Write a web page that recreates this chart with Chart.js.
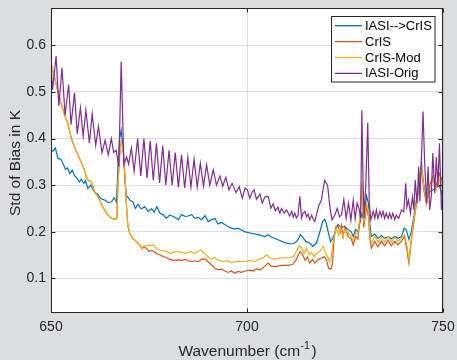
<!DOCTYPE html>
<html>
<head>
<meta charset="utf-8">
<script src="https://cdn.jsdelivr.net/npm/chart.js@4.4.1/dist/chart.umd.min.js"></script>
<style>
html,body{margin:0;padding:0;background:#dcdde1;}
#wrap{width:457px;height:360px;position:relative;}
canvas{display:block;}
</style>
</head>
<body>
<div id="wrap"><canvas id="c" width="457" height="360"></canvas></div>
<script>
// ---------------- DATA ----------------
const seriesNames = ["IASI-->CrIS", "CrIS", "CrIS-Mod", "IASI-Orig"];
const xTicks = [650, 700, 750];
const yTicks = [0.1, 0.2, 0.3, 0.4, 0.5, 0.6];

const wnIasiCris = [650.0,650.5,651.1,651.8,652.5,653.1,653.7,654.2,654.8,655.4,656.0,656.7,657.3,657.7,658.4,658.8,659.4,660.1,660.7,661.1,662.0,662.8,663.7,664.5,665.4,666.1,666.7,667.1,667.5,667.9,668.4,668.8,669.2,670.1,670.9,671.5,672.2,673.0,673.9,674.8,675.7,676.3,677.0,677.8,678.6,679.4,680.3,681.2,682.5,683.3,684.2,685.0,685.9,686.7,687.6,688.4,689.3,690.1,691.0,691.8,692.6,693.5,694.4,695.2,696.0,696.9,697.7,698.6,699.5,701.1,702.8,704.5,705.4,706.2,707.9,709.6,711.3,712.2,713.0,713.6,714.3,715.1,716.0,716.8,717.7,718.5,719.3,719.8,720.2,720.8,721.3,721.9,722.5,723.2,724.1,724.9,725.7,726.6,727.1,727.7,728.3,728.8,729.3,729.8,730.5,731.0,731.3,731.7,732.6,733.4,734.3,735.1,736.0,736.8,737.7,738.5,739.4,740.1,740.6,741.3,741.9,742.8,743.6,744.5,745.1,745.8,746.6,747.5,748.3,749.1,749.6,750.0];
const iasiCris = [0.375,0.373,0.38,0.357,0.356,0.346,0.334,0.337,0.325,0.332,0.321,0.314,0.307,0.313,0.304,0.31,0.293,0.30,0.291,0.286,0.279,0.271,0.268,0.263,0.264,0.273,0.264,0.343,0.40,0.418,0.379,0.321,0.279,0.268,0.264,0.25,0.259,0.249,0.254,0.244,0.25,0.242,0.254,0.24,0.237,0.229,0.236,0.233,0.226,0.237,0.233,0.234,0.237,0.229,0.231,0.226,0.235,0.222,0.226,0.229,0.217,0.22,0.215,0.211,0.208,0.206,0.208,0.204,0.20,0.197,0.194,0.19,0.194,0.189,0.183,0.177,0.174,0.176,0.183,0.194,0.187,0.179,0.176,0.169,0.176,0.197,0.222,0.227,0.219,0.197,0.179,0.186,0.20,0.216,0.209,0.212,0.205,0.20,0.19,0.205,0.20,0.22,0.24,0.225,0.277,0.26,0.22,0.19,0.195,0.186,0.192,0.186,0.19,0.185,0.19,0.186,0.19,0.208,0.205,0.184,0.20,0.245,0.29,0.347,0.30,0.27,0.286,0.29,0.297,0.298,0.285,0.26];

const wnCris = [650.0,650.9,651.8,652.6,653.5,654.3,655.2,656.0,656.9,657.7,658.4,659.0,659.4,660.3,661.1,662.0,662.8,663.7,664.5,665.4,666.2,666.8,667.1,667.5,667.9,668.4,668.8,669.2,669.6,670.1,670.9,671.8,672.6,673.2,673.6,674.3,675.0,675.6,676.3,677.0,677.8,678.6,679.4,680.3,681.2,682.5,683.3,684.2,685.0,685.9,686.7,687.6,688.4,689.3,690.1,691.0,691.8,692.6,693.5,694.4,695.2,696.0,696.9,697.7,698.6,699.5,700.7,701.6,702.4,703.3,704.5,705.4,706.2,707.5,708.8,710.5,711.8,712.6,713.5,714.1,714.8,715.4,716.0,716.7,717.3,718.2,719.0,719.7,720.3,720.8,721.4,721.8,722.2,722.7,723.3,723.7,724.1,724.5,725.0,725.8,726.6,727.1,727.7,728.3,728.8,729.3,729.8,730.5,731.0,731.3,731.7,732.6,733.4,734.3,735.1,736.0,736.8,737.7,738.5,739.4,740.2,740.8,741.3,741.9,742.8,743.6,744.5,745.1,745.8,746.6,747.5,748.3,749.1,749.6,750.0];
const cris = [0.561,0.532,0.50,0.475,0.45,0.432,0.40,0.382,0.364,0.35,0.336,0.318,0.311,0.307,0.286,0.275,0.261,0.246,0.236,0.229,0.227,0.229,0.307,0.364,0.393,0.379,0.329,0.264,0.214,0.196,0.186,0.179,0.172,0.164,0.168,0.165,0.158,0.16,0.158,0.153,0.151,0.147,0.145,0.141,0.139,0.14,0.139,0.141,0.138,0.136,0.138,0.136,0.141,0.142,0.136,0.129,0.122,0.119,0.12,0.116,0.113,0.116,0.111,0.115,0.113,0.116,0.118,0.116,0.121,0.118,0.126,0.133,0.126,0.126,0.128,0.128,0.131,0.141,0.158,0.153,0.139,0.146,0.133,0.141,0.133,0.141,0.144,0.147,0.139,0.122,0.12,0.133,0.183,0.212,0.212,0.198,0.214,0.19,0.21,0.19,0.185,0.172,0.19,0.185,0.225,0.30,0.21,0.255,0.23,0.19,0.165,0.18,0.168,0.18,0.17,0.182,0.17,0.18,0.172,0.18,0.19,0.16,0.133,0.18,0.235,0.28,0.335,0.29,0.26,0.30,0.32,0.30,0.325,0.315,0.30];

const wnCrisMod = [650.0,650.9,651.8,652.6,653.5,654.3,655.2,656.0,656.9,657.7,658.4,659.0,659.4,660.3,661.1,662.0,662.8,663.7,664.5,665.4,666.2,666.8,667.1,667.5,667.9,668.4,668.8,669.2,669.6,670.1,670.9,671.8,672.6,673.2,673.6,674.3,675.0,675.6,676.2,677.0,678.1,679.4,680.6,681.9,683.2,684.4,685.7,686.6,687.4,688.3,689.1,690.0,690.8,691.7,692.5,693.4,694.2,695.1,695.9,697.2,698.5,699.5,701.1,701.9,702.8,704.1,705.0,705.8,706.7,707.5,708.8,710.5,711.8,712.6,713.3,713.9,714.6,715.2,715.9,716.5,717.1,717.7,718.6,719.4,720.0,720.7,721.1,721.5,721.9,722.4,722.8,723.4,723.8,724.5,724.9,725.8,726.6,727.1,727.7,728.3,728.8,729.3,729.8,730.5,731.0,731.3,731.7,732.6,733.4,734.3,735.1,736.0,736.8,737.7,738.5,739.4,740.2,740.8,741.3,741.9,742.8,743.6,744.5,745.1,745.8,746.6,747.5,748.3,749.1,750.0];
const crisMod = [0.561,0.532,0.50,0.475,0.45,0.432,0.40,0.382,0.364,0.35,0.336,0.318,0.311,0.307,0.286,0.275,0.261,0.246,0.236,0.229,0.227,0.229,0.307,0.364,0.393,0.379,0.329,0.264,0.214,0.196,0.186,0.179,0.172,0.164,0.17,0.17,0.172,0.17,0.172,0.163,0.16,0.158,0.154,0.158,0.156,0.154,0.158,0.153,0.158,0.161,0.154,0.147,0.141,0.145,0.139,0.138,0.136,0.138,0.134,0.136,0.137,0.136,0.139,0.136,0.141,0.144,0.151,0.144,0.142,0.142,0.144,0.144,0.147,0.158,0.171,0.166,0.154,0.165,0.151,0.156,0.147,0.154,0.158,0.169,0.156,0.144,0.136,0.147,0.175,0.196,0.207,0.193,0.209,0.187,0.205,0.198,0.19,0.18,0.198,0.195,0.235,0.308,0.22,0.262,0.24,0.20,0.175,0.19,0.178,0.188,0.178,0.19,0.178,0.188,0.18,0.186,0.194,0.17,0.14,0.185,0.24,0.283,0.34,0.297,0.261,0.29,0.315,0.29,0.311,0.29];

const wnIasiOrig = [650.0,650.4,651.3,652.0,652.8,653.6,654.5,655.1,656.0,656.7,657.5,658.2,658.9,659.8,660.5,661.4,662.1,663.0,663.8,664.6,665.4,666.0,666.6,667.3,667.9,668.6,669.3,669.8,670.5,671.2,672.1,672.9,673.7,674.5,675.3,676.1,676.9,677.7,678.5,679.3,680.1,680.9,681.7,682.5,683.3,684.1,684.9,685.7,686.5,687.3,688.1,688.9,689.7,690.5,691.4,692.2,693.1,693.8,694.6,695.4,696.2,697.2,698.0,698.8,699.5,700.1,700.7,701.3,701.8,702.4,703.3,703.9,704.6,705.4,706.1,706.7,707.2,707.9,708.4,708.8,709.5,710.1,710.9,711.4,711.8,712.2,712.6,713.0,713.5,713.9,714.3,714.8,715.2,715.6,716.0,716.5,716.9,717.3,717.7,718.3,719.0,719.5,719.8,720.3,720.6,720.9,721.3,721.7,722.4,723.0,723.6,724.1,724.7,725.3,725.9,726.5,727.1,727.6,728.1,728.7,729.0,729.3,729.6,729.9,730.3,730.8,731.2,731.6,732.2,732.6,733.0,733.4,733.9,734.3,734.7,735.1,735.5,736.0,736.4,736.8,737.2,737.7,738.1,738.7,739.4,740.0,740.5,740.8,741.2,741.7,742.2,742.6,742.9,743.4,743.8,744.1,744.6,744.9,745.3,745.8,746.2,746.6,747.0,747.4,747.9,748.3,748.7,749.1,749.6,750.0];
const iasiOrig = [0.56,0.505,0.577,0.47,0.552,0.45,0.516,0.43,0.498,0.41,0.466,0.405,0.461,0.39,0.453,0.385,0.426,0.37,0.396,0.365,0.40,0.37,0.375,0.34,0.565,0.345,0.36,0.345,0.38,0.33,0.40,0.32,0.40,0.315,0.395,0.31,0.39,0.305,0.385,0.30,0.375,0.30,0.37,0.296,0.365,0.294,0.36,0.296,0.356,0.296,0.347,0.298,0.344,0.30,0.333,0.30,0.32,0.298,0.317,0.29,0.304,0.284,0.297,0.272,0.294,0.29,0.272,0.285,0.29,0.27,0.281,0.262,0.275,0.276,0.251,0.26,0.245,0.253,0.24,0.25,0.24,0.247,0.234,0.244,0.232,0.24,0.23,0.235,0.276,0.229,0.24,0.244,0.232,0.238,0.226,0.236,0.227,0.222,0.236,0.256,0.269,0.296,0.31,0.304,0.297,0.272,0.244,0.226,0.236,0.25,0.232,0.236,0.269,0.229,0.262,0.225,0.268,0.228,0.262,0.245,0.23,0.461,0.31,0.23,0.30,0.434,0.26,0.226,0.244,0.229,0.247,0.229,0.244,0.233,0.244,0.229,0.24,0.229,0.24,0.229,0.24,0.226,0.236,0.229,0.247,0.243,0.304,0.253,0.268,0.24,0.275,0.247,0.311,0.261,0.34,0.265,0.383,0.458,0.354,0.261,0.34,0.247,0.275,0.369,0.283,0.36,0.297,0.39,0.247,0.28];

// ---------------- STYLE ----------------
const FONT = "'Liberation Sans', Arial, Helvetica, sans-serif";
const colors = ["#0072BD", "#D95319", "#EDB120", "#7E2F8E"];
const axisColor = "#262626";
const pts = (xs, ys) => xs.map((x, i) => ({x: x, y: ys[i]}));

const seriesData = [pts(wnIasiCris, iasiCris), pts(wnCris, cris), pts(wnCrisMod, crisMod), pts(wnIasiOrig, iasiOrig)];

const datasets = seriesNames.map((n, i) => ({
  label: n,
  data: seriesData[i],
  borderColor: colors[i],
  backgroundColor: colors[i],
  borderWidth: 1.2,
  pointRadius: 0,
  tension: 0,
  fill: false,
  order: 3 - i
}));

const frame = {
  id: 'frame',
  beforeDraw(chart) {
    const {ctx, chartArea: a} = chart;
    ctx.save();
    ctx.fillStyle = '#ffffff';
    ctx.fillRect(a.left, a.top, a.right - a.left, a.bottom - a.top);
    ctx.restore();
  },
  afterDraw(chart) {
    const {ctx, chartArea: a, scales} = chart;
    ctx.save();
    ctx.strokeStyle = axisColor;
    ctx.lineWidth = 1;
    const L = Math.round(a.left) + 0.5, R = Math.round(a.right) - 0.5;
    const T = Math.round(a.top) + 0.5, B = Math.round(a.bottom) - 0.5;
    ctx.strokeRect(L, T, R - L, B - T);
    ctx.beginPath();
    yTicks.forEach(v => {
      const y = Math.round(scales.y.getPixelForValue(v)) + 0.5;
      ctx.moveTo(L, y); ctx.lineTo(L + 4, y);
      ctx.moveTo(R, y); ctx.lineTo(R - 4, y);
    });
    xTicks.forEach(v => {
      const x = Math.round(scales.x.getPixelForValue(v)) + 0.5;
      ctx.moveTo(x, B); ctx.lineTo(x, B - 4);
      ctx.moveTo(x, T); ctx.lineTo(x, T + 4);
    });
    ctx.stroke();

    // legend
    const lx = 331.5, ly = 16.5, lw = 103.5, lh = 65.5;
    ctx.fillStyle = '#ffffff';
    ctx.fillRect(lx, ly, lw, lh);
    ctx.strokeStyle = axisColor;
    ctx.strokeRect(lx, ly, lw, lh);
    ctx.font = "13px " + FONT;
    ctx.textBaseline = 'middle';
    ctx.textAlign = 'left';
    seriesNames.forEach((n, i) => {
      const yy = 25.7 + i * 15.9;
      ctx.strokeStyle = colors[i];
      ctx.lineWidth = 1.3;
      ctx.beginPath();
      ctx.moveTo(335, yy); ctx.lineTo(362, yy);
      ctx.stroke();
      ctx.fillStyle = '#000000';
      ctx.fillText(n, 365, yy + 0.5);
    });

    // axis titles
    ctx.fillStyle = axisColor;
    ctx.font = "15.5px " + FONT;
    ctx.textBaseline = 'alphabetic';
    const main = "Wavenumber (cm";
    const sup = "-1";
    const close = ")";
    const wMain = ctx.measureText(main).width;
    ctx.font = "10.5px " + FONT;
    const wSup = ctx.measureText(sup).width;
    ctx.font = "15.5px " + FONT;
    const wClose = ctx.measureText(close).width;
    const total = wMain + wSup + 2 + wClose;
    let x0 = 247.5 - total / 2;
    const by = 355.5;
    ctx.textAlign = 'left';
    ctx.fillText(main, x0, by);
    ctx.font = "10.5px " + FONT;
    ctx.fillText(sup, x0 + wMain + 0.5, by - 7);
    ctx.font = "15.5px " + FONT;
    ctx.fillText(close, x0 + wMain + wSup + 2, by);

    ctx.save();
    ctx.translate(19.5, 163);
    ctx.rotate(-Math.PI / 2);
    ctx.textAlign = 'center';
    ctx.fillText("Std of Bias in K", 0, 0);
    ctx.restore();
    ctx.restore();
  }
};

const noPad = s => { s.paddingTop = 0; s.paddingBottom = 0; s.paddingLeft = 0; s.paddingRight = 0; };

new Chart(document.getElementById('c'), {
  type: 'line',
  data: {datasets: datasets},
  options: {
    responsive: false,
    animation: false,
    devicePixelRatio: 1,
    layout: {padding: {left: 0, top: 8, right: 14, bottom: 0}},
    plugins: {legend: {display: false}, tooltip: {enabled: false}},
    scales: {
      x: {
        type: 'linear', min: 650, max: 750,
        afterFit: s => { s.height = 47; noPad(s); },
        afterBuildTicks: s => { s.ticks = xTicks.map(v => ({value: v})); },
        grid: {color: 'rgba(38,38,38,0.15)', lineWidth: 1, drawTicks: false},
        border: {display: false},
        ticks: {color: axisColor, font: {family: FONT, size: 14}, padding: 6, maxRotation: 0, callback: v => String(v)}
      },
      y: {
        type: 'linear', min: 0.026, max: 0.68,
        afterFit: s => { s.width = 51; noPad(s); },
        afterBuildTicks: s => { s.ticks = yTicks.map(v => ({value: v})); },
        grid: {color: 'rgba(38,38,38,0.15)', lineWidth: 1, drawTicks: false},
        border: {display: false},
        ticks: {color: axisColor, font: {family: FONT, size: 14}, padding: 5, callback: v => v.toFixed(1)}
      }
    }
  },
  plugins: [frame]
});
</script>
</body>
</html>
